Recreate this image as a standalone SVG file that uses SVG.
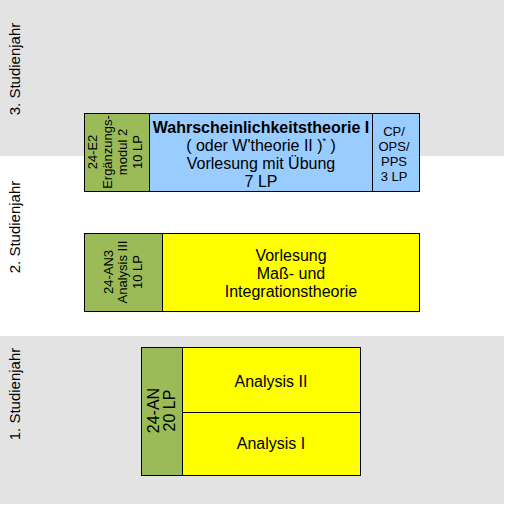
<svg xmlns="http://www.w3.org/2000/svg" width="527" height="531" viewBox="0 0 527 531">
<style>
text{font-family:"Liberation Sans",Arial,sans-serif;fill:#000;text-anchor:middle}
.band{fill:#e3e3e3}
.box{stroke:#000;stroke-width:1}
.g{fill:#9bbb59}
.b{fill:#99ccff}
.y{fill:#ffff00}
.yr{font-size:15px}
.t{font-size:16px}
.s{font-size:13px}
</style>
<rect class="band" x="0" y="0" width="504" height="156"/>
<rect class="band" x="0" y="336" width="504" height="168"/>
<g id="years">
<text class="yr" transform="translate(20,69) rotate(-90)">3. Studienjahr</text>
<text class="yr" transform="translate(20,227) rotate(-90)">2. Studienjahr</text>
<text class="yr" transform="translate(20,394) rotate(-90)">1. Studienjahr</text>
</g>
<g id="connectors"></g>
<g id="e2">
<rect class="box g" x="84.5" y="113.5" width="65" height="78"/>
<text class="s" transform="translate(97,152) rotate(-90)">24-E2</text>
<text class="s" transform="translate(112,152) rotate(-90)">Ergänzungs-</text>
<text class="s" transform="translate(127,152) rotate(-90)">modul 2</text>
<text class="s" transform="translate(142,152) rotate(-90)">10 LP</text>
</g>
<g id="wt">
<rect class="box b" x="149.5" y="113.5" width="223" height="78"/>
<text class="t" x="261" y="133" font-weight="bold">Wahrscheinlichkeitstheorie I</text>
<text class="t" x="261" y="151">( oder W'theorie II )<tspan font-size="9" dy="-7">*</tspan><tspan dy="7"> )</tspan></text>
<text class="t" x="261" y="169">Vorlesung mit Übung</text>
<text class="t" x="261" y="187">7 LP</text>
</g>
<g id="cp">
<rect class="box b" x="372.5" y="113.5" width="47" height="78"/>
<text class="s" x="394" y="136">CP/</text>
<text class="s" x="394" y="151">OPS/</text>
<text class="s" x="394" y="165.5">PPS</text>
<text class="s" x="394" y="180.5">3 LP</text>
</g>
<g id="an3">
<rect class="box g" x="84.5" y="233.5" width="78" height="78"/>
<text class="s" transform="translate(113,272) rotate(-90)">24-AN3</text>
<text class="s" transform="translate(127,272) rotate(-90)">Analysis III</text>
<text class="s" transform="translate(142,272) rotate(-90)">10 LP</text>
</g>
<g id="mass">
<rect class="box y" x="162.5" y="233.5" width="257" height="78"/>
<text class="t" x="291" y="261">Vorlesung</text>
<text class="t" x="291" y="279">Maß- und</text>
<text class="t" x="291" y="297">Integrationstheorie</text>
</g>
<g id="an">
<rect class="box g" x="141.5" y="347.5" width="41" height="128"/>
<text class="t" transform="translate(159,410.5) rotate(-90)">24-AN</text>
<text class="t" transform="translate(175,410.5) rotate(-90)">20 LP</text>
</g>
<g id="an2">
<rect class="box y" x="182.5" y="347.5" width="178" height="65"/>
<text class="t" x="271" y="387">Analysis II</text>
</g>
<g id="an1">
<rect class="box y" x="182.5" y="412.5" width="178" height="63"/>
<text class="t" x="271" y="449">Analysis I</text>
</g>
</svg>
